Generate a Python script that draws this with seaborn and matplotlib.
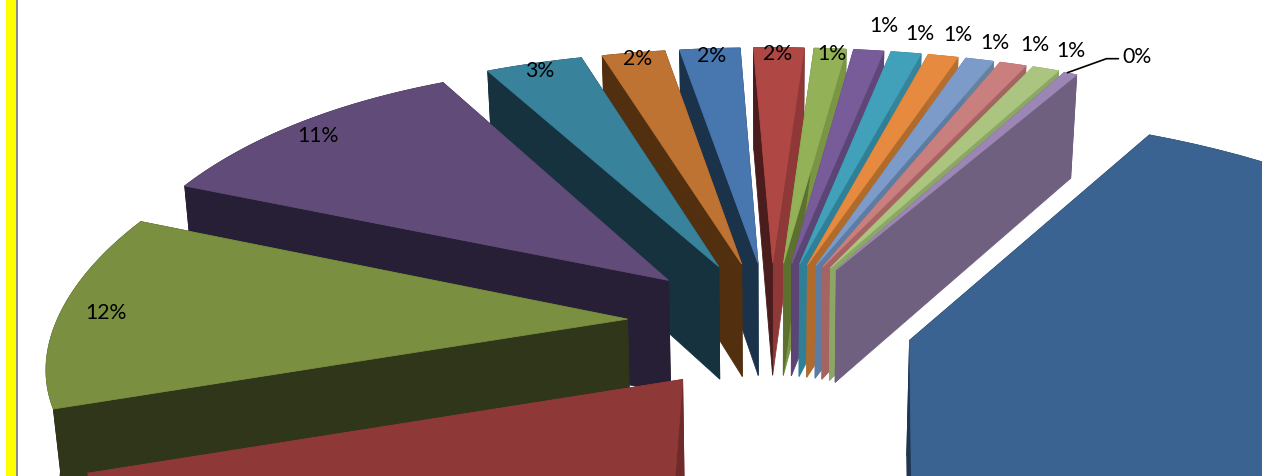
import numpy as np
import matplotlib
matplotlib.use("Agg")
import matplotlib.pyplot as plt
import seaborn as sns

# ---- data (clockwise from the big blue slice) ----
values = [42.8, 19.0, 12.4, 11.0, 3.0, 1.9, 1.8, 1.5, 0.95, 0.9, 0.9, 0.9, 0.85, 0.8, 0.8, 0.4]
labels = [None, None, "12%", "11%", "3%", "2%", "2%", "2%", "1%", "1%", "1%", "1%", "1%", "1%", "1%", "0%"]
top_colors = ["#3A6391", "#8E3937", "#7A8F3F", "#614C79", "#38829B", "#BF7332", "#4877B0", "#AF4745",
              "#93B156", "#785B99", "#41A0BA", "#E58A3E", "#7D9BC8", "#C97F7D", "#ABC47F", "#9C86B5"]
low_colors = ["#1F3550", "#6E2B2A", "#30361A", "#271F35", "#16323F", "#52300F", "#1B324B", "#4A1C1C",
              "#5E7030", "#5A4575", "#2F7F96", "#B06A2C", "#5C7CA4", "#A56462", "#8CA666", "#6F6080"]
high_colors = ["#1F3550", "#7F3231", "#30361A", "#271F35", "#16323F", "#52300F", "#1B324B", "#8E3937",
               "#7A9645", "#5E4778", "#36849A", "#B56E30", "#6382A0", "#A56462", "#8CA666", "#6F6080"]
label_offsets = [(0, 0), (0, 0), (46, 2), (22, 12), (4, 7), (4, 6), (2, 7), (-1, 6),
                 (2, 5), (15, -24), (14, -19), (15, -21), (16, -17), (23, -19), (27, -18), (70, -16)]
slice_shift = [(-3, 5), (-3, 9), (1, 0), (0, 0), (-2, 0), (0, 0), (0, 0), (0, 0),
               (0, 0), (0, 0), (0, 0), (0, 0), (1, 0), (1, 0), (2, 0), (3, 1)]

sns.set_theme(style="white")
plt.rcParams["font.family"] = ["Lato", "DejaVu Sans"]

CX, CY, K, D = 771.0, 321.0, 0.41, 6000.0
EXPLODE, RADIUS, DEPTH = 145.0, 605.0, 115.0
START = 26.8


def project(x, y, z=0.0):
    s = D / (D - y)
    px = x * s * (1 - 0.02 * z / DEPTH)
    if px < 0:
        px *= 1 - (0.0346 - 7.3e-5 * y) * (px / 650.0) ** 2
    return CX + px, CY + K * y * s + z * s


def polar(apex, r, th):
    return apex[0] + r * np.sin(th), apex[1] - r * np.cos(th)


fig, ax = plt.subplots(figsize=(12.62, 4.76), dpi=100)
fig.subplots_adjust(0, 0, 1, 1)
ax.set_xlim(0, 1262)
ax.set_ylim(476, 0)
ax.axis("off")
ax.axvspan(6, 16, color="#FFFF00", lw=0, zorder=50)
ax.axvspan(16, 18, color="#8A8A8A", lw=0, zorder=50)

fracs = np.array(values) / np.sum(values) * 360.0
ang0 = START + np.concatenate([[0], np.cumsum(fracs)[:-1]])
ang1 = ang0 + fracs
mids = np.radians((ang0 + ang1) / 2)
order = sorted(range(len(values)), key=lambda i: -np.cos(mids[i]))

for z, i in enumerate(order):
    mid = mids[i]
    apex = (EXPLODE * np.sin(mid), -EXPLODE * np.cos(mid))
    ths = np.radians(np.linspace(ang0[i], ang1[i], 60))
    dx, dy = slice_shift[i]
    rim = [polar(apex, RADIUS, t) for t in ths]
    top = [tuple(np.add(project(*p), (dx, dy))) for p in rim]
    bot = [tuple(np.add(project(*p, DEPTH), (dx, dy))) for p in rim]
    a_t = tuple(np.add(project(*apex), (dx, dy)))
    a_b = tuple(np.add(project(*apex, DEPTH), (dx, dy)))
    kw = dict(lw=0.6, zorder=z + 1)
    ax.fill(*zip(*(top + bot[::-1])), color=low_colors[i], **kw)
    ax.fill(*zip(a_t, top[-1], bot[-1], a_b), color=high_colors[i], **kw)
    ax.fill(*zip(a_t, top[0], bot[0], a_b), color=low_colors[i], **kw)
    ax.fill(*zip(*([a_t] + top)), color=top_colors[i], **kw)

for i, lab in enumerate(labels):
    if lab is None:
        continue
    mid = mids[i]
    apex = (EXPLODE * np.sin(mid), -EXPLODE * np.cos(mid))
    px, py = project(*polar(apex, RADIUS, mid))
    ax.text(px + label_offsets[i][0], py + label_offsets[i][1], lab, fontsize=15.3,
            color="black", ha="center", va="center", zorder=60)
    if lab == "0%":
        ax.plot([px, px + 39, px + 51], [py, py - 14, py - 14], color="black", lw=1.2, zorder=60)

fig.savefig("out.png", dpi=100)
